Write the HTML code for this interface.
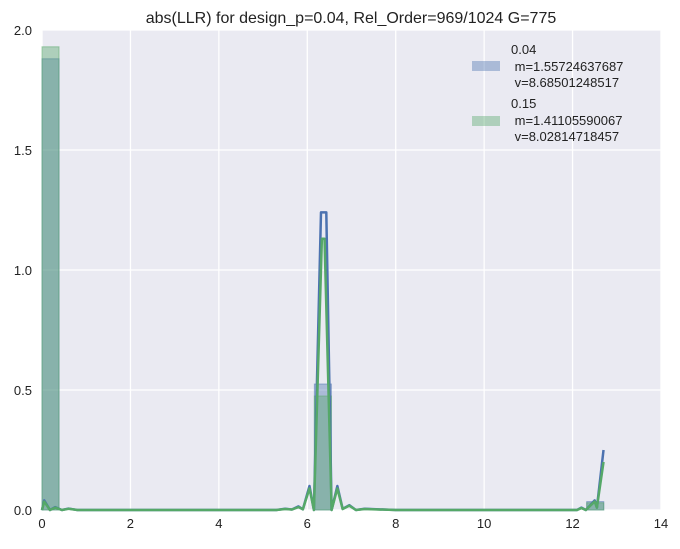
<!DOCTYPE html>
<html><head><meta charset="utf-8"><style>
body{margin:0;background:#fff;font-family:"Liberation Sans","DejaVu Sans",sans-serif}
svg text{font-family:"Liberation Sans","DejaVu Sans",sans-serif}
</style></head><body>
<svg id="chart" width="680" height="544">
<rect x="42" y="30" width="619" height="480" fill="#eaeaf2"/>
<g id="grid"></g>
<g id="bars"></g>
<g id="lines"></g>
<g id="ticks"></g>
<text x="351" y="23" text-anchor="middle" font-size="16" fill="#222">abs(LLR) for design_p=0.04, Rel_Order=969/1024 G=775</text>
<g font-size="13" fill="#222">
<rect x="472" y="61" width="28" height="10" fill="#4c72b0" fill-opacity="0.4"/>
<text x="511" y="54">0.04</text>
<text x="511" y="71">&#160;m=1.55724637687</text>
<text x="511" y="87">&#160;v=8.68501248517</text>
<rect x="472" y="116" width="28" height="10" fill="#55a868" fill-opacity="0.4"/>
<text x="511" y="108">0.15</text>
<text x="511" y="125">&#160;m=1.41105590067</text>
<text x="511" y="141">&#160;v=8.02814718457</text>
</g>
</svg>
<script>
const xTicks=[0,2,4,6,8,10,12,14];
const yTicks=[0,0.5,1,1.5,2];
const yTickLabels=["0.0","0.5","1.0","1.5","2.0"];
const binWidth=0.385;
const binStarts=[0,6.16,12.32];
const histBlue=[1.88,0.525,0.035];
const histGreen=[1.93,0.475,0.03];
const kdeBlueX=[0,0.05,0.18,0.3,0.45,0.6,0.8,5.3,5.5,5.65,5.8,5.9,6.05,6.15,6.31,6.43,6.55,6.68,6.8,6.95,7.1,7.3,8,12.1,12.2,12.3,12.4,12.5,12.55,12.7];
const kdeBlueY=[0,0.04,0,0.012,0,0.006,0,0,0.005,0.002,0.015,0.003,0.1,0,1.24,1.24,0,0.1,0.005,0.02,0,0.005,0,0,0.01,0,0.02,0.04,0.01,0.25];
const kdeGreenX=[0,0.05,0.18,0.3,0.45,0.6,0.8,5.3,5.5,5.65,5.8,5.9,6.05,6.15,6.33,6.39,6.55,6.68,6.8,6.95,7.1,7.3,8,12.1,12.2,12.3,12.4,12.5,12.55,12.7];
const kdeGreenY=[0,0.035,0,0.01,0,0.005,0,0,0.004,0.002,0.012,0.003,0.09,0,1.13,1.13,0,0.09,0.004,0.018,0,0.004,0,0,0.008,0,0.018,0.035,0.01,0.2];
const X=v=>42+v*(619/14), Y=v=>510-v*240;
const NS="http://www.w3.org/2000/svg";
function mk(tag,attrs,parent){const e=document.createElementNS(NS,tag);for(const k in attrs)e.setAttribute(k,attrs[k]);document.getElementById(parent).appendChild(e);return e;}
xTicks.forEach(t=>{
 const l=mk('line',{x1:X(t),x2:X(t),y1:30,y2:510,stroke:'#fff','stroke-width':1.3},'grid');
 
 
 const tx=mk('text',{x:X(t),y:528,'text-anchor':'middle','font-size':13,fill:'#222'},'ticks');
 tx.textContent=t;
 
 
});
yTicks.forEach((t,i)=>{
 const l=mk('line',{x1:42,x2:661,y1:Y(t),y2:Y(t),stroke:'#fff','stroke-width':1.3},'grid');
 
 
 const tx=mk('text',{x:32,y:Y(t)+5,'text-anchor':'end','font-size':13,fill:'#222'},'ticks');
 tx.textContent=yTickLabels[i];
 
 
});
function hist(vals,color,name){
 binStarts.forEach((b,i)=>{
  const r=mk('rect',{x:X(b),y:Y(vals[i]),width:X(b+binWidth)-X(b),height:Y(0)-Y(vals[i]),fill:color,'fill-opacity':0.4,stroke:color,'stroke-opacity':0.5},'bars');
  
  
 });
}
hist(histBlue,'#4c72b0','hist-bar-004');
hist(histGreen,'#55a868','hist-bar-015');
function line(xs,ys,color,name){
 const p=mk('polyline',{points:xs.map((x,i)=>X(x)+','+Y(ys[i])).join(' '),fill:'none',stroke:color,'stroke-width':2.5,'stroke-linejoin':'round'},'lines');
 
 
}
line(kdeBlueX,kdeBlueY,'#4c72b0','kde-line-004');
line(kdeGreenX,kdeGreenY,'#55a868','kde-line-015');
</script>
</body></html>
